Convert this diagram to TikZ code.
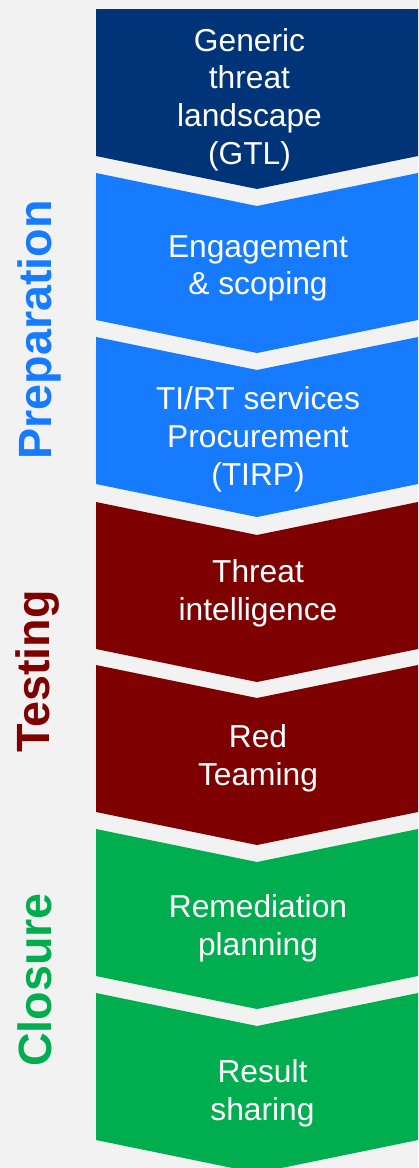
\documentclass[tikz,border=0pt]{standalone}
\usepackage{fontspec}
\setmainfont{Liberation Sans}
\usetikzlibrary{calc}
\definecolor{bgray}{HTML}{F2F2F2}
\definecolor{navy}{HTML}{003478}
\definecolor{prepblue}{HTML}{177BFF}
\definecolor{testred}{HTML}{7F0000}
\definecolor{closegreen}{HTML}{00AE50}
% chevron: top y, colour, notched top (1) or flat top (0)
\newcommand{\chevron}[3]{%
	\fill[#2] (96,#1) -- (257,#1+33*#3) -- (418,#1) -- (418,#1+147)
		-- (257,#1+180) -- (96,#1+147) -- cycle;
}

\begin{document}
\begin{tikzpicture}[x=0.75pt,y=-0.75pt,
		phase/.style={text=white,align=center,inner sep=0pt,
			font=\fontsize{23.8}{28.3}\selectfont},
		stage/.style={rotate=90,anchor=base,inner sep=0pt,
			font=\bfseries\fontsize{35}{42}\selectfont}]
		\useasboundingbox (0,0) rectangle (418,1168);
		\clip (0,0) rectangle (418,1168);
		\fill[bgray] (0,0) rectangle (418,1168);

		\chevron{9}{navy}{0}
		\chevron{173}{prepblue}{1}
		\chevron{337}{prepblue}{1}
		\chevron{502}{testred}{1}
		\chevron{665}{testred}{1}
		\chevron{829}{closegreen}{1}
		\chevron{993}{closegreen}{1}

		\node[phase] (gtl) at (249.5,99.5) {Generic\\threat\\landscape\\(GTL)};
		\node[phase] (scope) at (258,268.5) {Engagement\\\& scoping};
		\node[phase] (tirp) at (258,439.5) {TI/RT services\\Procurement\\(TIRP)};
		\node[phase] (ti) at (258,593) {Threat\\intelligence};
		\node[phase] (rt) at (258,758) {Red\\Teaming};
		\node[phase] (remed) at (258,928.5) {Remediation\\planning};
		\node[phase] (share) at (262.5,1093) {Result\\sharing};

		\node[stage,text=prepblue] (prep) at (51,330) {Preparation};
		\node[stage,text=testred] (test) at (50,671.5) {Testing};
		\node[stage,text=closegreen] (close) at (51,980) {Closure};
	\end{tikzpicture}
\end{document}
